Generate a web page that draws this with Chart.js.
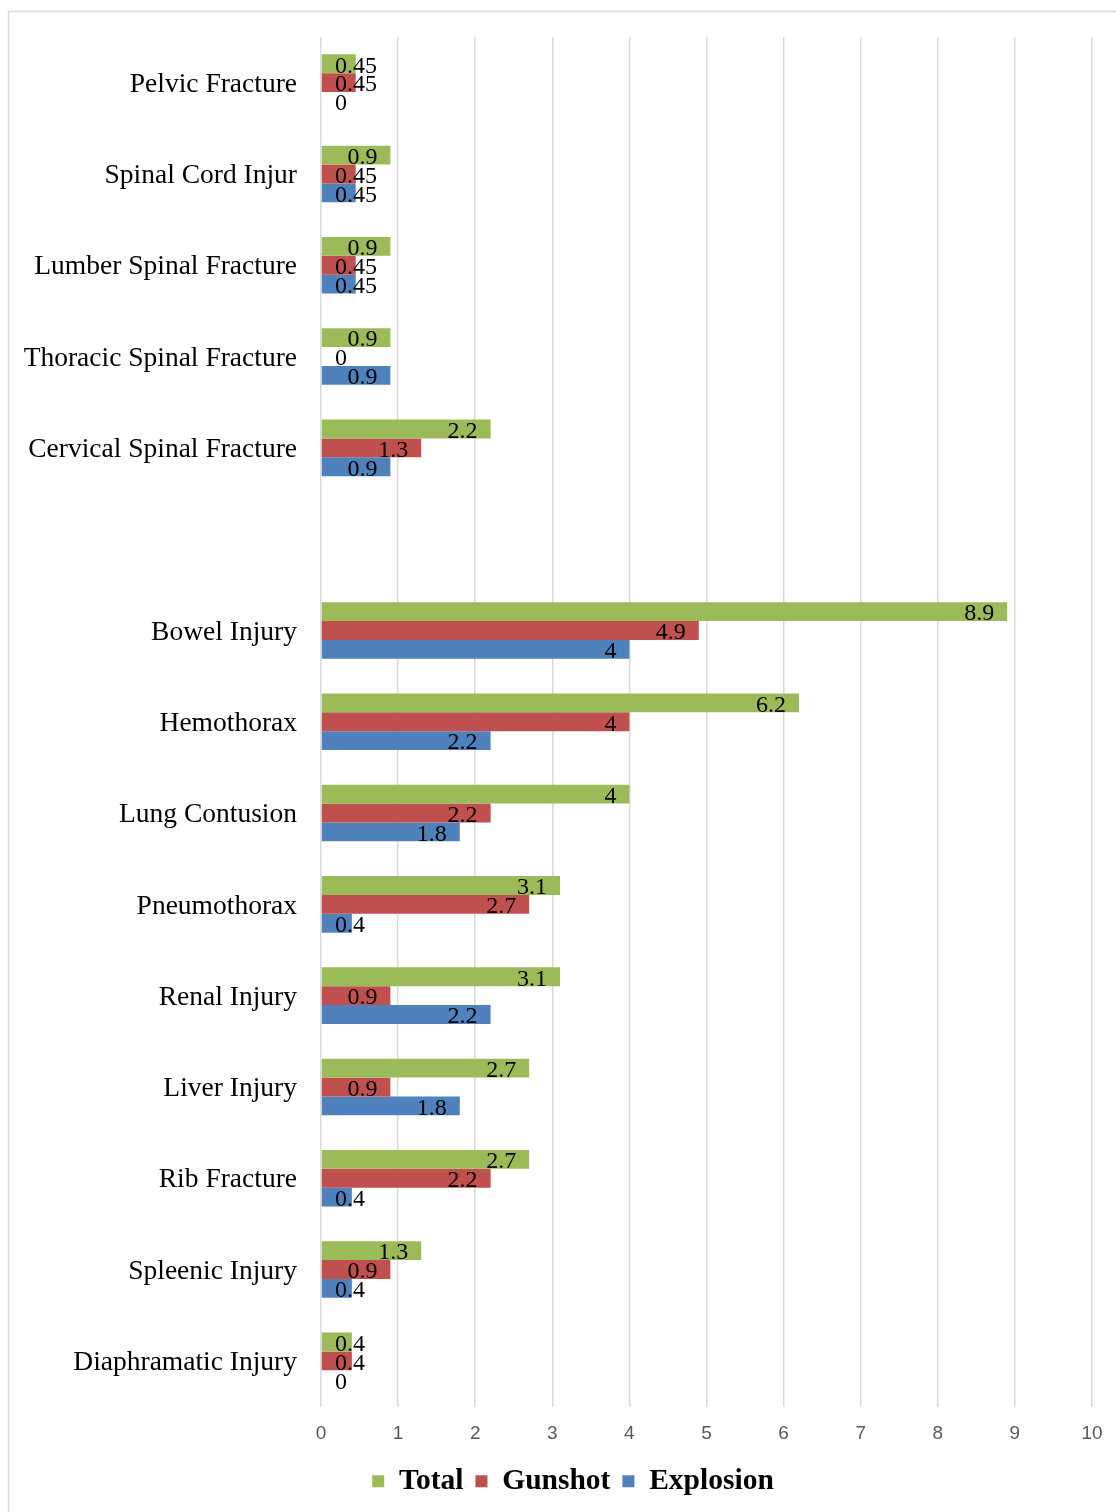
<!DOCTYPE html>
<html>
<head>
<meta charset="utf-8">
<script src="https://cdn.jsdelivr.net/npm/chart.js@4/dist/chart.umd.min.js"></script>
<style>
  html, body { margin: 0; padding: 0; background: #ffffff; }
  #wrap { width: 1116px; height: 1512px; position: relative; }
</style>
</head>
<body>
<div id="wrap"><canvas id="chart" width="1116" height="1512"></canvas></div>
<script>
// Injury categories, top to bottom; the blank entry separates the spinal group
const categories = [
  'Pelvic Fracture', 'Spinal Cord Injur', 'Lumber Spinal Fracture',
  'Thoracic Spinal Fracture', 'Cervical Spinal Fracture', '',
  'Bowel Injury', 'Hemothorax', 'Lung Contusion', 'Pneumothorax',
  'Renal Injury', 'Liver Injury', 'Rib Fracture', 'Spleenic Injury',
  'Diaphramatic Injury'
];

const totalValues     = [0.45, 0.9, 0.9, 0.9, 2.2, null, 8.9, 6.2, 4, 3.1, 3.1, 2.7, 2.7, 1.3, 0.4];
const gunshotValues   = [0.45, 0.45, 0.45, 0, 1.3, null, 4.9, 4, 2.2, 2.7, 0.9, 0.9, 2.2, 0.9, 0.4];
const explosionValues = [0, 0.45, 0.45, 0.9, 0.9, null, 4, 2.2, 1.8, 0.4, 2.2, 1.8, 0.4, 0.4, 0];

const seriesNames = ['Total', 'Gunshot', 'Explosion'];
const xTicks = [0, 1, 2, 3, 4, 5, 6, 7, 8, 9, 10];

const SERIF = '"Liberation Serif", "Times New Roman", serif';

// Thin frame around the chart object
const framePlugin = {
  id: 'frame',
  beforeDraw(chart) {
    const ctx = chart.ctx;
    ctx.save();
    ctx.fillStyle = '#ffffff';
    ctx.fillRect(0, 0, chart.width, chart.height);
    ctx.strokeStyle = '#D9D9D9';
    ctx.lineWidth = 1.5;
    ctx.strokeRect(8.5, 11.5, chart.width + 50, chart.height + 50);
    ctx.restore();
  }
};

// Centre the legend under a wider frame than the canvas shows
const legendShift = {
  id: 'legendShift',
  afterLayout(chart) {
    if (chart.legend) {
      chart.legend.left += 27;
      chart.legend.right += 27;
    }
  }
};

// Value labels placed just inside the end of each bar
const valueLabels = {
  id: 'valueLabels',
  afterDatasetsDraw(chart) {
    const ctx = chart.ctx;
    const xScale = chart.scales.x;
    const zeroX = xScale.getPixelForValue(0);
    ctx.save();
    ctx.font = '24px ' + SERIF;
    ctx.fillStyle = '#000000';
    ctx.textAlign = 'left';
    ctx.textBaseline = 'middle';
    chart.data.datasets.forEach((ds, di) => {
      const meta = chart.getDatasetMeta(di);
      meta.data.forEach((bar, i) => {
        const v = ds.data[i];
        if (v === null || v === undefined) return;
        const text = String(v);
        const w = ctx.measureText(text).width;
        const x = Math.max(bar.x - 13 - w, zeroX + 14);
        ctx.fillText(text, x, bar.y + 2.5);
      });
    });
    ctx.restore();
  }
};

const colors = ['#9BBB59', '#C0504D', '#4F81BD'];
const seriesValues = [totalValues, gunshotValues, explosionValues];

new Chart(document.getElementById('chart'), {
  type: 'bar',
  data: {
    labels: categories,
    datasets: seriesNames.map((name, k) => ({
      label: name,
      data: seriesValues[k],
      backgroundColor: colors[k],
      borderWidth: 0,
      categoryPercentage: 0.62,
      barPercentage: 1.0
    }))
  },
  options: {
    indexAxis: 'y',
    responsive: false,
    animation: false,
    devicePixelRatio: 1,
    layout: { padding: { top: 37, right: 24, left: 0, bottom: 6 } },
    scales: {
      x: {
        min: 0,
        max: 10,
        afterBuildTicks(scale) { scale.ticks = xTicks.map(v => ({ value: v })); },
        afterFit(scale) {
          scale.height = 48;
          scale.paddingLeft = 0;
          scale.paddingRight = 0;
        },
        grid: { color: '#D9D9D9', lineWidth: 1.5, drawTicks: false },
        border: { display: false },
        ticks: {
          color: '#595959',
          padding: 16,
          font: { family: '"Liberation Sans Narrow", "Liberation Sans", sans-serif', size: 19 }
        }
      },
      y: {
        afterFit(scale) {
          scale.width = 321;
          scale.paddingTop = 0;
          scale.paddingBottom = 0;
        },
        grid: { display: false, drawTicks: false },
        border: { display: false },
        ticks: {
          color: '#000000',
          padding: 24,
          labelOffset: 2,
          autoSkip: false,
          font: { family: SERIF, size: 27.5 }
        }
      }
    },
    plugins: {
      legend: {
        position: 'bottom',
        labels: {
          color: '#000000',
          boxWidth: 12,
          boxHeight: 12,
          padding: 12,
          font: { family: SERIF, size: 29.5, weight: 'bold' }
        }
      },
      tooltip: { enabled: false }
    }
  },
  plugins: [framePlugin, legendShift, valueLabels]
});
</script>
</body>
</html>
